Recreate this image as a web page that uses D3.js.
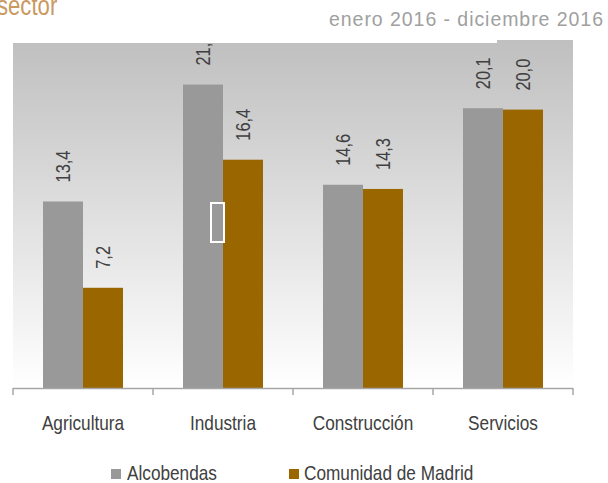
<!DOCTYPE html>
<html>
<head>
<meta charset="utf-8">
<script src="https://cdn.jsdelivr.net/npm/d3@7/dist/d3.min.js"></script>
<style>
  html, body { margin: 0; padding: 0; background: #ffffff; }
  svg { display: block; }
</style>
</head>
<body>
<svg id="chart" width="608" height="483"></svg>
<script>
const categories = ["Agricultura", "Industria", "Construcción", "Servicios"];
const seriesNames = ["Alcobendas", "Comunidad de Madrid"];
const alcobendas = [13.4, 21.8, 14.6, 20.1];
const comunidad = [7.2, 16.4, 14.3, 20.0];
const seriesValues = [alcobendas, comunidad];
const seriesColors = ["#999999", "#996600"];
const titleText = "sector";
const subtitleText = "enero 2016 - diciembre 2016";

(function () {
const svg = d3.select("#chart");
const sans = "'Liberation Sans', Arial, sans-serif";
const NARROW = 0.82;

const pLeft = 13, pRight = 573, pTop = 40, pBottom = 388, bgTop = 43;

const x = d3.scaleBand().domain(categories).range([pLeft, pRight]).padding(0);
const xInner = d3.scaleBand().domain(seriesNames).range([30, 110]).padding(0);
const y = d3.scaleLinear().domain([0, 25]).range([pBottom, pTop]);

const defs = svg.append("defs");
const grad = defs.append("linearGradient")
  .attr("id", "bg").attr("gradientUnits", "userSpaceOnUse")
  .attr("x1", 0).attr("x2", 0).attr("y1", bgTop).attr("y2", pBottom);
grad.append("stop").attr("offset", "0%").attr("stop-color", "#c0c0c0");
grad.append("stop").attr("offset", "100%").attr("stop-color", "#ffffff");

defs.append("clipPath").attr("id", "plotclip")
  .append("rect").attr("x", pLeft).attr("y", bgTop).attr("width", pRight - pLeft).attr("height", pBottom - bgTop);

// background
svg.append("rect").attr("x", pLeft).attr("y", bgTop).attr("width", pRight - pLeft).attr("height", pBottom - bgTop)
  .attr("fill", "url(#bg)");
svg.append("rect").attr("x", 497).attr("y", pTop).attr("width", pRight - 497).attr("height", bgTop - pTop + 0.5)
  .attr("fill", "#c0c0c0");

// title & subtitle
svg.append("text").attr("transform", `translate(-3,15) scale(${NARROW},1)`)
  .attr("font-family", sans).attr("font-size", 27).attr("fill", "#c9995f")
  .text(titleText);
svg.append("text").attr("x", 603).attr("y", 26).attr("text-anchor", "end")
  .attr("font-family", sans).attr("font-size", 19.5)
  .attr("textLength", 274).attr("lengthAdjust", "spacing").attr("fill", "#a0a0a0")
  .text(subtitleText);

// bars
const groups = svg.append("g").selectAll("g").data(categories).join("g")
  .attr("transform", d => `translate(${x(d)},0)`);

seriesNames.forEach((s, si) => {
  groups.append("rect")
    .attr("x", xInner(s))
    .attr("width", xInner.bandwidth())
    .attr("y", (d, i) => y(seriesValues[si][i]))
    .attr("height", (d, i) => pBottom - y(seriesValues[si][i]))
    .attr("fill", seriesColors[si]);
});

// value labels
const labelLayer = svg.append("g").attr("clip-path", "url(#plotclip)");
seriesNames.forEach((s, si) => {
  labelLayer.selectAll(null).data(categories).join("text")
    .attr("transform", (d, i) => `translate(${x(d) + xInner(s) + xInner.bandwidth() / 2},${y(seriesValues[si][i]) - 19}) rotate(-90) scale(${NARROW},1)`)
    .attr("dy", "0.35em")
    .attr("font-family", sans).attr("font-size", 20).attr("fill", "#404040")
    .text((d, i) => seriesValues[si][i].toFixed(1).replace(".", ","));
});

// artifact box
svg.append("rect").attr("x", 211).attr("y", 203).attr("width", 13).attr("height", 39)
  .attr("fill", "none").attr("stroke", "#ffffff").attr("stroke-width", 2);

// axis
const axis = d3.axisBottom(x).tickSize(0).tickPadding(0);
const ax = svg.append("g").attr("transform", `translate(0,${pBottom})`).call(axis);
ax.select(".domain").remove();
ax.selectAll(".tick text").remove();
svg.append("line").attr("x1", pLeft).attr("x2", pRight).attr("y1", pBottom + 0.5).attr("y2", pBottom + 0.5)
  .attr("stroke", "#a6a6a6").attr("stroke-width", 1.5);
const tickXs = categories.map(c => x(c)).concat([x(categories[categories.length - 1]) + x.bandwidth()]);
svg.append("g").selectAll("line").data(tickXs).join("line")
  .attr("x1", d => d).attr("x2", d => d).attr("y1", pBottom).attr("y2", pBottom + 7)
  .attr("stroke", "#a6a6a6").attr("stroke-width", 1.5);

svg.append("g").selectAll("text").data(categories).join("text")
  .attr("transform", d => `translate(${x(d) + x.bandwidth() / 2},430) scale(${NARROW},1)`)
  .attr("text-anchor", "middle")
  .attr("font-family", sans).attr("font-size", 21).attr("fill", "#404040")
  .text(d => d);

// legend
const legendPos = [{sx: 111, tx: 127}, {sx: 289, tx: 304}];
seriesNames.forEach((s, si) => {
  svg.append("rect").attr("x", legendPos[si].sx).attr("y", 469).attr("width", 10).attr("height", 10)
    .attr("fill", seriesColors[si]);
  svg.append("text").attr("transform", `translate(${legendPos[si].tx},479.5) scale(${NARROW},1)`)
    .attr("font-family", sans).attr("font-size", 21).attr("fill", "#404040")
    .text(s);
});
})();
</script>
</body>
</html>
